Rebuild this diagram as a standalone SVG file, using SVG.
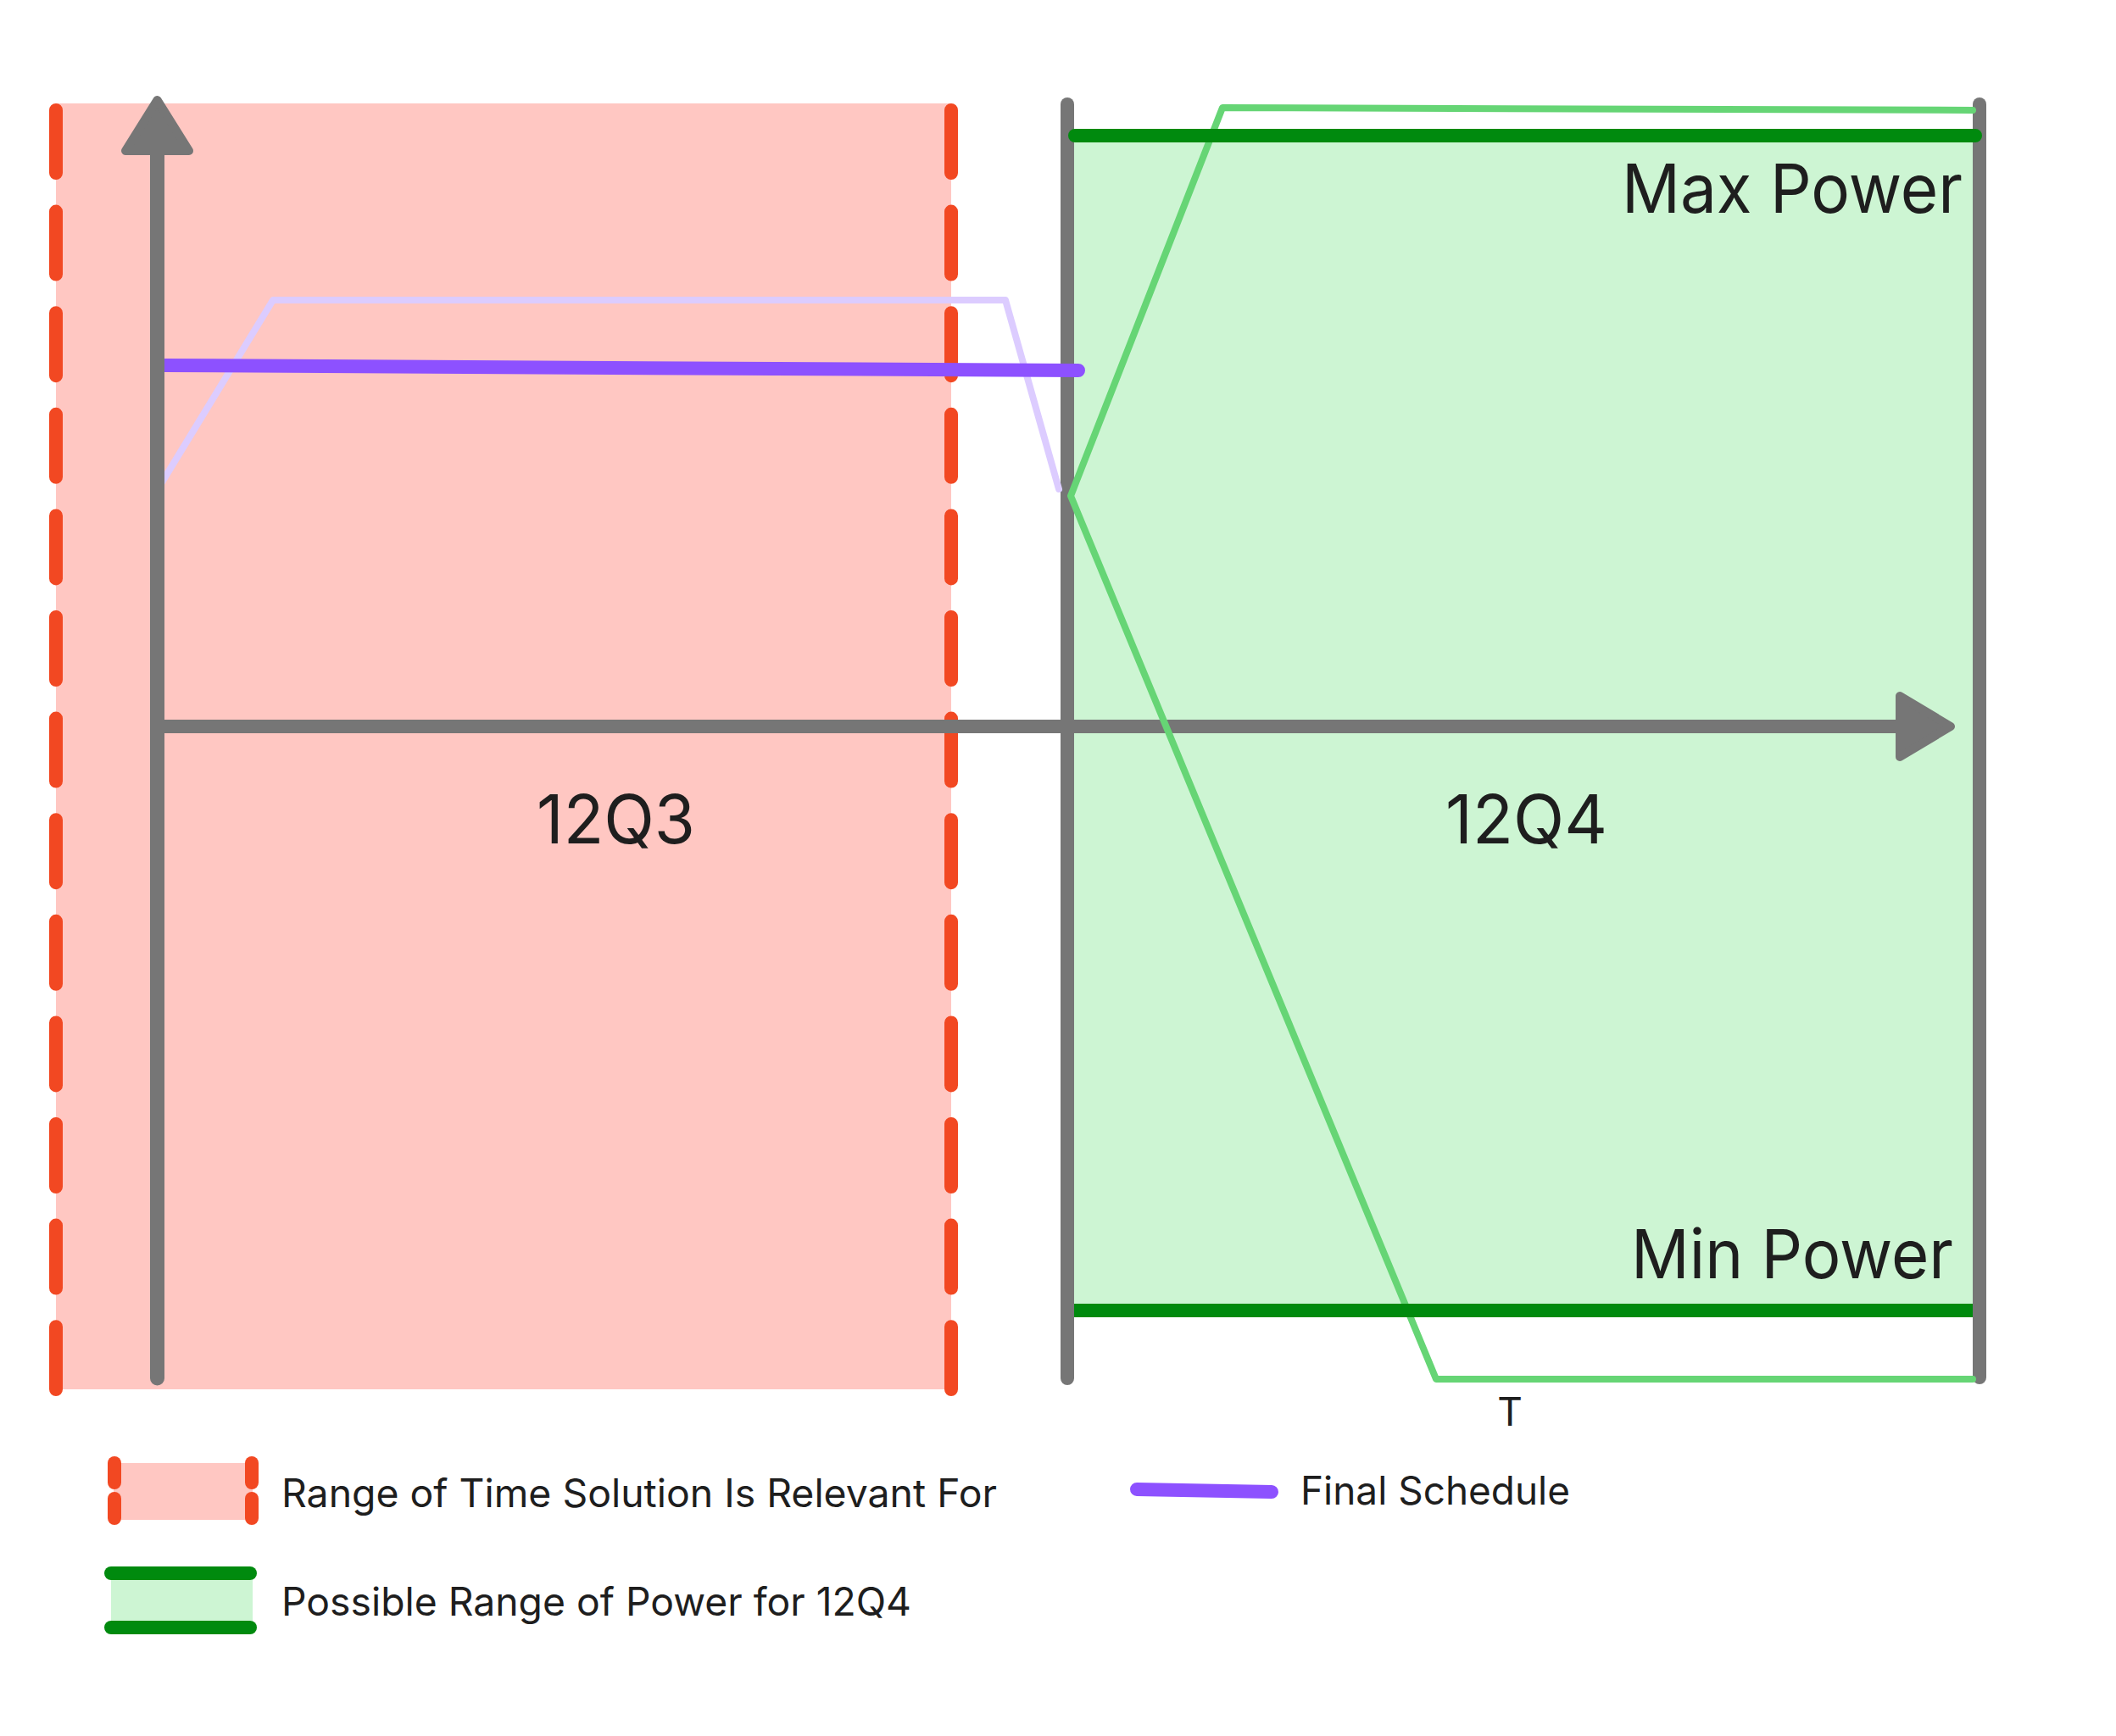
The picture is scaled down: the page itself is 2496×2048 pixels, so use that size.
<svg xmlns="http://www.w3.org/2000/svg" width="2496" height="2048" viewBox="0 0 2496 2048">
<style>
text{font-family:Inter,"Noto Sans","Liberation Sans",sans-serif;fill:#1E1E1E}
.big{font-size:80px}
.sm{font-size:46px}
.gray{stroke:#767676;stroke-width:16;stroke-linecap:round;fill:none}
.reddash{stroke:#F24822;stroke-width:16;stroke-linecap:round;stroke-dasharray:74 45.6;fill:none}
.red{stroke:#F24822;stroke-width:16;stroke-linecap:round;fill:none}
.dg{stroke:#008A0E;stroke-width:16;fill:none}
.lg{stroke:#66D575;stroke-width:8;stroke-linecap:round;stroke-linejoin:round;fill:none}
.pur{stroke:#8D51FF;stroke-width:16;stroke-linecap:round;fill:none}
.lav{stroke:#DCCCFF;stroke-width:8;stroke-linejoin:round;fill:none}
.head{fill:#767676;stroke:#767676;stroke-width:10;stroke-linejoin:round}
</style>
<rect width="2496" height="2048" fill="#FFFFFF"/>
<g id="range-12Q3">
<rect x="66" y="122" width="1056" height="1517" fill="#FFC7C2"/>
</g>
<g id="range-12Q4">
<rect x="1267" y="160" width="1060" height="1380" fill="#CDF5D3"/>
</g>
<g id="dashed-bounds">
<line class="reddash" x1="66" y1="130" x2="66" y2="1639"/>
<line class="reddash" x1="1122" y1="130" x2="1122" y2="1639"/>
</g>
<g id="axes">
<line class="gray" x1="1259" y1="123" x2="1259" y2="1626"/>
<line class="gray" x1="2335" y1="123" x2="2335" y2="1625"/>
<line stroke="#767676" stroke-width="16" x1="185" y1="857" x2="2242" y2="857"/>
<polygon class="head" points="2301,857 2241,821 2241,893"/>
</g>
<g id="connectors">
<polyline class="lav" points="188,574 322,354 1186,354 1249,577" stroke-linecap="round"/>
<line class="pur" x1="194" y1="431" x2="1272" y2="437"/>
<polyline class="lg" points="2327,130 1442,127 1263,585 1694,1627 2327,1627"/>
<line class="dg" stroke-linecap="round" x1="1268" y1="160" x2="2330" y2="160"/>
<line class="dg" x1="1267" y1="1546" x2="2327" y2="1546"/>
</g>
<g id="y-axis">
<line stroke="#767676" stroke-width="17" stroke-linecap="round" x1="185.5" y1="180" x2="185.5" y2="1626"/>
<polygon class="head" points="185.5,118 148,178 223,178"/>
</g>
<g id="labels">
<text class="big" x="633" y="995" textLength="187" lengthAdjust="spacingAndGlyphs">12Q3</text>
<text class="big" x="1705" y="995" textLength="191" lengthAdjust="spacingAndGlyphs">12Q4</text>
<text class="big" x="1913" y="251" textLength="402" lengthAdjust="spacingAndGlyphs">Max Power</text>
<text class="big" x="1924" y="1508" textLength="380" lengthAdjust="spacingAndGlyphs">Min Power</text>
<text class="sm" x="1781" y="1682" text-anchor="middle">T</text>
</g>
<g id="legend-range">
<rect x="134" y="1726" width="164" height="67" fill="#FFC7C2"/>
<line class="red" x1="135" y1="1726" x2="135" y2="1749"/>
<line class="red" x1="135" y1="1768" x2="135" y2="1791"/>
<line class="red" x1="297" y1="1726" x2="297" y2="1749"/>
<line class="red" x1="297" y1="1768" x2="297" y2="1791"/>
<text class="sm" x="332" y="1778" textLength="844" lengthAdjust="spacingAndGlyphs">Range of Time Solution Is Relevant For</text>
</g>
<g id="legend-power">
<rect x="131" y="1864" width="167" height="48" fill="#CDF5D3"/>
<line class="dg" stroke-linecap="round" x1="131" y1="1856" x2="295" y2="1856"/>
<line class="dg" stroke-linecap="round" x1="131" y1="1920" x2="295" y2="1920"/>
<text class="sm" x="332" y="1906" textLength="743" lengthAdjust="spacingAndGlyphs">Possible Range of Power for 12Q4</text>
</g>
<g id="legend-schedule">
<line class="pur" x1="1341" y1="1757" x2="1500" y2="1760"/>
<text class="sm" x="1534" y="1775" textLength="318" lengthAdjust="spacingAndGlyphs">Final Schedule</text>
</g>
</svg>
